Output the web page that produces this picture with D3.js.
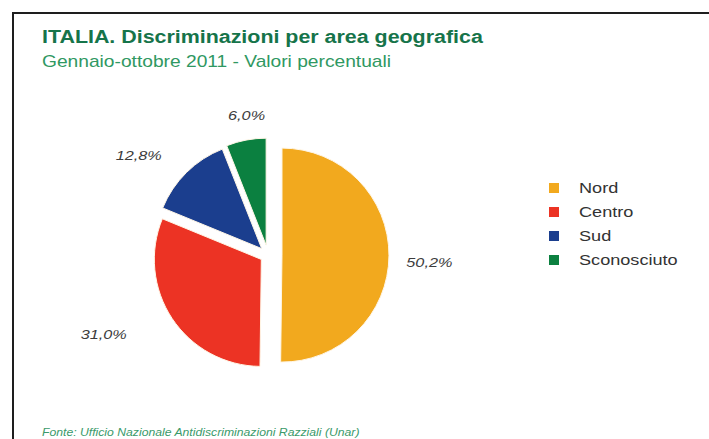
<!DOCTYPE html>
<html>
<head>
<meta charset="utf-8">
<script src="https://cdn.jsdelivr.net/npm/d3@7"></script>
<style>
  html, body { margin: 0; padding: 0; background: #ffffff; }
  svg { display: block; font-family: "Liberation Sans", Arial, sans-serif; }
</style>
</head>
<body>
<svg id="chart" width="709" height="439"></svg>
<script>
const categories = ["Nord", "Centro", "Sud", "Sconosciuto"];
const values = [50.2, 31.0, 12.8, 6.0];
const valueLabels = ["50,2%", "31,0%", "12,8%", "6,0%"];
const colors = ["#F2A91E", "#EC3324", "#1B3E8E", "#0B8040"];
const title = "ITALIA. Discriminazioni per area geografica";
const subtitle = "Gennaio-ottobre 2011 - Valori percentuali";
const source = "Fonte: Ufficio Nazionale Antidiscriminazioni Razziali  (Unar)";

// styling constants (the source picture is horizontally stretched)
const explode = [14, 8, 9, 10];
const labelFactor = [1.51, 1.71, 1.52, 1.31];
const labelShiftDeg = [2.6, 7.4, -8, 2];

const svg = d3.select("#chart");
const W = 709, H = 439;

function stretchedText(sel, x, y, s) {
  return sel.attr("transform", `translate(${x},${y}) scale(${s},1)`);
}

// frame lines (top and left)
svg.append("rect").attr("x", 0).attr("y", 0).attr("width", W).attr("height", H).attr("fill", "#fff");
svg.append("line").attr("x1", 12).attr("x2", W).attr("y1", 13).attr("y2", 13)
  .attr("stroke", "#1e1e1e").attr("stroke-width", 2);
svg.append("line").attr("x1", 13).attr("x2", 13).attr("y1", 12).attr("y2", H)
  .attr("stroke", "#1e1e1e").attr("stroke-width", 2);

// titles
stretchedText(svg.append("text"), 42, 43, 1.19)
  .attr("font-size", 18).attr("font-weight", "bold").attr("fill", "#16744a")
  .text(title);
stretchedText(svg.append("text"), 42, 67, 1.2)
  .attr("font-size", 16).attr("fill", "#2f9862")
  .text(subtitle);

// pie
const cx = 268, cy = 255, r = 107;
const pie = d3.pie().value(d => d).sort(null);
const arcs = pie(values);
const arc = d3.arc().innerRadius(0).outerRadius(r);

const g = svg.append("g").attr("transform", `translate(${cx},${cy})`);
g.selectAll("path").data(arcs).join("path")
  .attr("d", arc)
  .attr("fill", (d, i) => colors[i])
  .attr("stroke", "#fff6e6")
  .attr("stroke-width", 1)
  .attr("transform", (d, i) => {
    const a = (d.startAngle + d.endAngle) / 2;
    return `translate(${Math.sin(a) * explode[i]},${-Math.cos(a) * explode[i]})`;
  });

g.selectAll("text.val").data(arcs).join("text")
  .attr("class", "val")
  .attr("transform", (d, i) => {
    const a = (d.startAngle + d.endAngle) / 2 + labelShiftDeg[i] * Math.PI / 180;
    const x = Math.sin(a) * r * labelFactor[i];
    const y = -Math.cos(a) * r * labelFactor[i] + 4;
    return `translate(${x},${y}) scale(1.3,1)`;
  })
  .attr("text-anchor", "middle")
  .attr("font-size", 12.5).attr("font-style", "italic").attr("fill", "#3c3c3c")
  .text((d, i) => valueLabels[i]);

// legend
const lx = 549, ly = 188, step = 24;
const leg = svg.append("g");
categories.forEach((c, i) => {
  leg.append("rect").attr("x", lx).attr("y", ly + i * step - 5).attr("width", 10).attr("height", 10)
    .attr("fill", colors[i]);
  stretchedText(leg.append("text"), lx + 30, ly + i * step + 5, 1.25)
    .attr("font-size", 14.5).attr("fill", "#333").text(c);
});

// source
stretchedText(svg.append("text"), 42, 436, 1.11)
  .attr("font-size", 11).attr("font-style", "italic").attr("fill", "#3a9a6a")
  .text(source);
</script>
</body>
</html>
